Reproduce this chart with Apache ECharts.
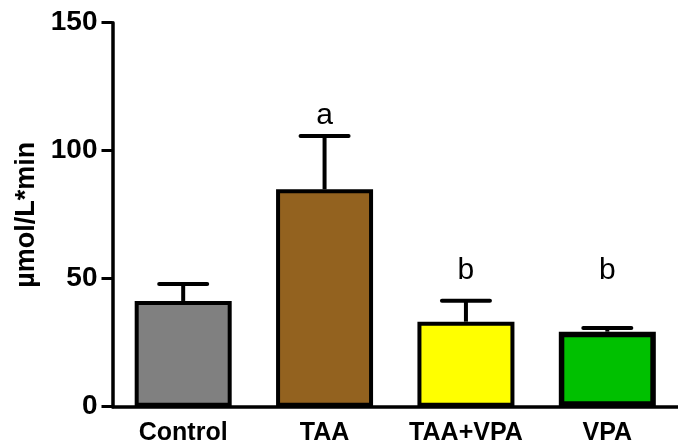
<!DOCTYPE html>
<html>
<head>
<meta charset="utf-8">
<script src="https://cdn.jsdelivr.net/npm/echarts@6/dist/echarts.min.js"></script>
<style>
html,body{margin:0;padding:0;background:#fff;}
#c{width:678px;height:446px;}
</style>
</head>
<body>
<div id="c"></div>
<script>
// ---- data ----
const categories = ['Control', 'TAA', 'TAA+VPA', 'VPA'];
const means = [41.3, 84.9, 33.2, 29.3];
const errors = [6.6, 20.8, 8.2, 1.4];
const letters = ['', 'a', 'b', 'b'];
const letterValues = [null, 113.5, 53, 53];
const yTicks = [0, 50, 100, 150];
const barColors = ['#808080', '#93621F', '#FFFF00', '#00C000'];
const borderWidths = [4, 4, 4, 5.5];

const FONT = 'Liberation Sans, Arial, sans-serif';
const chart = echarts.init(document.getElementById('c'), null, {renderer: 'canvas'});

const barData = means.map((v, i) => ({
  value: v,
  itemStyle: {color: barColors[i], borderColor: '#000', borderWidth: borderWidths[i]}
}));
const errData = means.map((v, i) => [i, v, errors[i]]);
const letterData = letters.map((t, i) => [i, letterValues[i], t]).filter(d => d[2]);

chart.setOption({
  animation: false,
  backgroundColor: '#fff',
  grid: {left: 112.5, top: 22.7, width: 576, height: 384},
  xAxis: {
    type: 'category',
    data: categories,
    axisLine: {lineStyle: {color: '#000', width: 3.5}},
    axisTick: {alignWithLabel: true, length: 9, lineStyle: {color: '#000', width: 3}},
    axisLabel: {interval: 0, hideOverlap: false, color: '#000', fontFamily: FONT, fontWeight: 'bold', fontSize: 25, margin: 14}
  },
  yAxis: {
    type: 'value',
    min: yTicks[0], max: yTicks[yTicks.length - 1], interval: 50,
    name: 'µmol/L*min',
    nameLocation: 'middle',
    nameGap: 70,
    nameTextStyle: {color: '#000', fontFamily: FONT, fontWeight: 'bold', fontSize: 27},
    axisLine: {show: true, lineStyle: {color: '#000', width: 3.5}},
    axisTick: {show: true, length: 11, lineStyle: {color: '#000', width: 3}},
    splitLine: {show: false},
    axisLabel: {color: '#000', fontFamily: FONT, fontWeight: 'bold', fontSize: 28, margin: 15}
  },
  series: [
    {
      type: 'bar',
      data: barData,
      barWidth: 97
    },
    {
      type: 'custom',
      data: errData,
      z: 3,
      renderItem: function (params, api) {
        const x = api.value(0), m = api.value(1), e = api.value(2);
        const base = api.coord([x, m]);
        const top = api.coord([x, m + e]);
        const half = 24;
        return {
          type: 'group',
          children: [
            {type: 'line', shape: {x1: base[0], y1: base[1], x2: top[0], y2: top[1]},
             style: {stroke: '#000', lineWidth: 4}},
            {type: 'line', shape: {x1: top[0] - half, y1: top[1], x2: top[0] + half, y2: top[1]},
             style: {stroke: '#000', lineWidth: 4, lineCap: 'round'}}
          ]
        };
      }
    },
    {
      type: 'custom',
      data: letterData,
      z: 4,
      renderItem: function (params, api) {
        const p = api.coord([api.value(0), api.value(1)]);
        return {
          type: 'text',
          style: {
            x: p[0], y: p[1], text: letterData[params.dataIndex][2],
            fill: '#000', font: 'normal 30px ' + FONT,
            textAlign: 'center', textVerticalAlign: 'middle'
          }
        };
      }
    }
  ]
});
</script>
</body>
</html>
